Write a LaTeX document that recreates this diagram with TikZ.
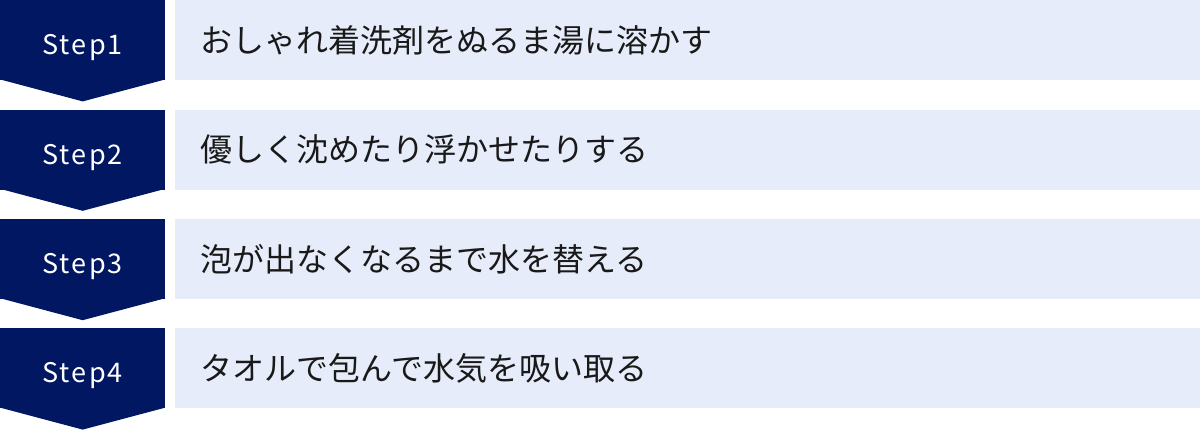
\documentclass[tikz,border=0pt]{standalone}
\usepackage{fontspec}
\usetikzlibrary{positioning}
\newfontfamily\jpfont{Noto Sans CJK JP}
\newfontfamily\stepfont[LetterSpace=8]{Noto Sans CJK JP}
\definecolor{stepnavy}{HTML}{021762}
\definecolor{tasklight}{HTML}{E6ECF9}

\begin{document}
\begin{tikzpicture}[
  stepbox/.style={rectangle, fill=stepnavy, text=white, minimum width=165pt, minimum height=80pt, inner sep=0pt, text height=29pt, text depth=0pt, font=\stepfont\fontsize{27pt}{32pt}\selectfont},
  taskbox/.style={rectangle, fill=tasklight, text=black!90, minimum height=80pt, inner xsep=26pt, inner ysep=0pt, text width=974pt, align=left, font=\jpfont\fontsize{32pt}{38pt}\selectfont},
  tip/.style={fill=stepnavy}
]
\useasboundingbox (0pt,0pt) rectangle (1200pt,-429pt);
\node[stepbox, anchor=north west] (s1) at (0pt,0pt) {Step1};
\node[stepbox, below=29pt of s1] (s2) {Step2};
\node[stepbox, below=29pt of s2] (s3) {Step3};
\node[stepbox, below=29pt of s3] (s4) {Step4};
\node[taskbox, right=9pt of s1] (t1) {おしゃれ着洗剤をぬるま湯に溶かす};
\node[taskbox, right=9pt of s2] (t2) {優しく沈めたり浮かせたりする};
\node[taskbox, right=9pt of s3] (t3) {泡が出なくなるまで水を替える};
\node[taskbox, right=9pt of s4] (t4) {タオルで包んで水気を吸い取る};
% arrow tips below each step
\fill[tip] ([yshift=1pt]s1.south west) -- ([yshift=1pt]s1.south east) -- ([yshift=-21pt]s1.south) -- cycle;
\fill[tip] ([yshift=1pt]s2.south west) -- ([yshift=1pt]s2.south east) -- ([yshift=-21pt]s2.south) -- cycle;
\fill[tip] ([yshift=1pt]s3.south west) -- ([yshift=1pt]s3.south east) -- ([yshift=-21pt]s3.south) -- cycle;
\fill[tip] ([yshift=1pt]s4.south west) -- ([yshift=1pt]s4.south east) -- ([yshift=-21pt]s4.south) -- cycle;
\end{tikzpicture}
\end{document}
